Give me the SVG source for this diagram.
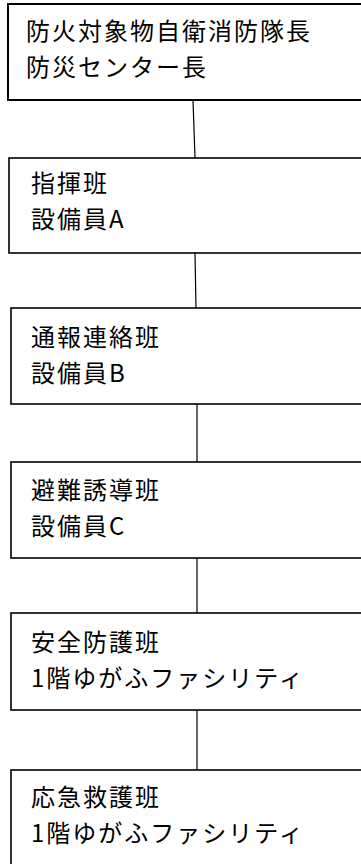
<svg xmlns="http://www.w3.org/2000/svg" width="361" height="864" viewBox="0 0 361 864">
<style>
.box{fill:#fff;stroke:#000;stroke-width:1.6}
.t{font-family:"Noto Sans CJK JP","Liberation Sans",sans-serif;font-size:24px;letter-spacing:2px;fill:#000}
.c{stroke:#000;stroke-width:1.2;fill:none}
</style>
<rect width="361" height="864" fill="#fff"/>
<g id="connectors">
<line class="c" x1="193" y1="100" x2="195" y2="158"/>
<line class="c" x1="195" y1="253" x2="196" y2="308"/>
<line class="c" x1="197" y1="404" x2="197" y2="462"/>
<line class="c" x1="197" y1="558" x2="197" y2="613"/>
<line class="c" x1="197" y1="710" x2="197" y2="770"/>
</g>
<g id="n1">
<rect class="box" x="8" y="4" width="400" height="96" style="stroke-width:2"/>
<text class="t" x="26" y="40">防火対象物自衛消防隊長</text>
<text class="t" x="26" y="76">防災センター長</text>
</g>
<g id="n2">
<rect class="box" x="9" y="158" width="400" height="95"/>
<text class="t" x="31" y="192">指揮班</text>
<text class="t" x="31" y="228">設備員A</text>
</g>
<g id="n3">
<rect class="box" x="11" y="308" width="400" height="96"/>
<text class="t" x="31" y="346">通報連絡班</text>
<text class="t" x="31" y="382">設備員B</text>
</g>
<g id="n4">
<rect class="box" x="11" y="462" width="400" height="96"/>
<text class="t" x="31" y="499">避難誘導班</text>
<text class="t" x="31" y="535">設備員C</text>
</g>
<g id="n5">
<rect class="box" x="11" y="613" width="400" height="97"/>
<text class="t" x="31" y="651">安全防護班</text>
<text class="t" x="31" y="687">1階ゆがふファシリティ</text>
</g>
<g id="n6">
<rect class="box" x="11" y="770" width="400" height="120"/>
<text class="t" x="31" y="806">応急救護班</text>
<text class="t" x="31" y="842">1階ゆがふファシリティ</text>
</g>
</svg>
